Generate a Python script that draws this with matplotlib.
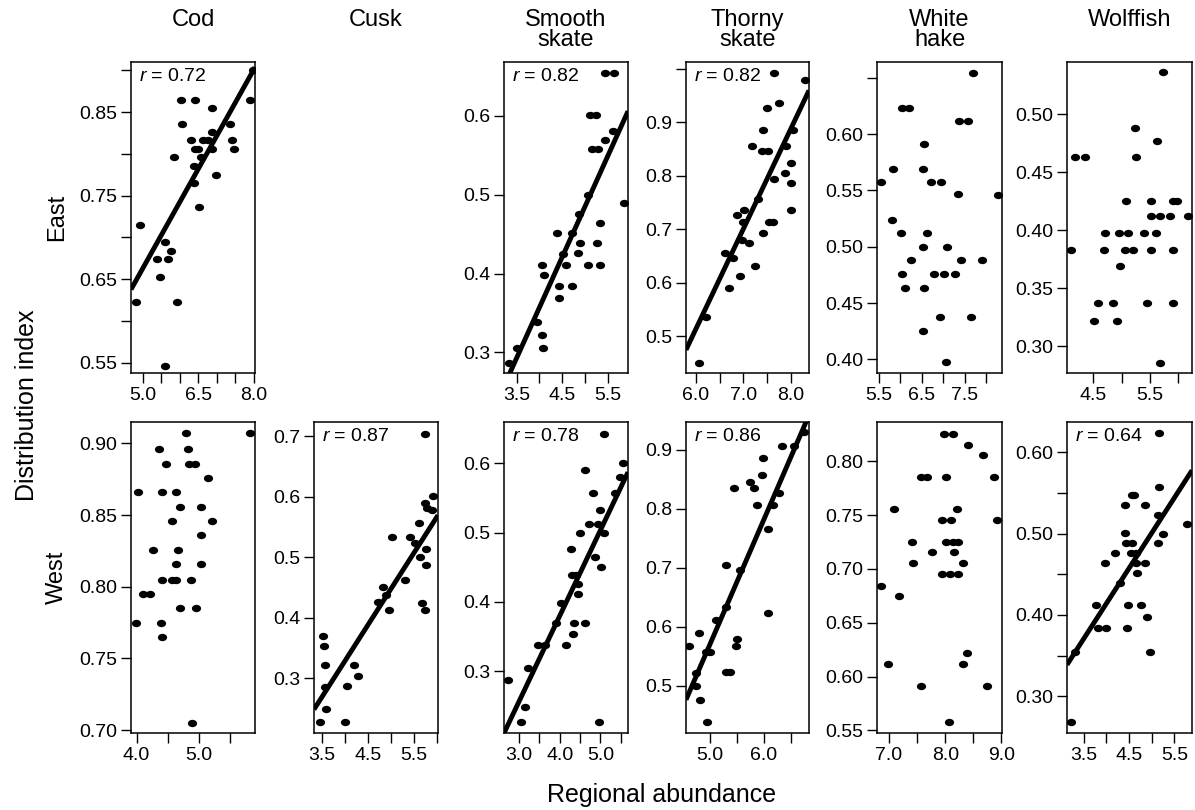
import numpy as np
import matplotlib
matplotlib.use('Agg')
import matplotlib.pyplot as plt
from matplotlib.path import Path

plt.rcParams['font.family'] = ['Liberation Sans', 'DejaVu Sans']
plt.rcParams['mathtext.fontset'] = 'custom'
plt.rcParams['mathtext.it'] = 'Liberation Sans:italic'
plt.rcParams['mathtext.rm'] = 'Liberation Sans'

species = ['Cod', 'Cusk', 'Smooth\nskate', 'Thorny\nskate', 'White\nhake', 'Wolffish']
regions = ['East', 'West']

# ---- East ----
cod_east_x = [4.91, 4.82, 5.39, 5.46, 5.60, 5.75, 5.69, 5.61, 5.91, 5.84, 6.03, 6.06, 6.30, 6.42, 6.38,
              6.39, 6.42, 6.53, 6.56, 6.62, 6.76, 6.88, 6.88, 6.88, 6.97, 7.36, 7.40, 7.45, 7.89, 6.50, 7.98]
cod_east_y = [0.715, 0.622, 0.674, 0.653, 0.695, 0.684, 0.674, 0.546, 0.622, 0.796, 0.865, 0.836, 0.816, 0.865, 0.785,
              0.765, 0.806, 0.736, 0.796, 0.816, 0.816, 0.806, 0.826, 0.855, 0.775, 0.836, 0.816, 0.806, 0.865, 0.806, 0.900]
cod_east_fit = (0.0794, 0.266)   # slope, intercept
cod_east_r = 0.72

smooth_east_x = [3.32, 3.51, 3.94, 4.06, 4.07, 4.05, 4.11, 4.39, 4.44, 4.44, 4.51, 4.58, 4.71, 4.71, 4.88, 4.90,
                 4.86, 5.07, 5.07, 5.11, 5.24, 5.15, 5.29, 5.27, 5.33, 5.33, 5.44, 5.65, 5.44, 5.61, 5.86]
smooth_east_y = [0.287, 0.306, 0.338, 0.322, 0.306, 0.411, 0.398, 0.451, 0.384, 0.369, 0.425, 0.411, 0.451, 0.384,
                 0.476, 0.439, 0.426, 0.411, 0.500, 0.601, 0.601, 0.558, 0.558, 0.439, 0.464, 0.411, 0.654, 0.654,
                 0.569, 0.580, 0.489]
smooth_east_fit = (0.1275, -0.153)
smooth_east_r = 0.82

thorny_east_x = [6.07, 6.22, 6.62, 6.69, 6.79, 6.86, 6.93, 6.97, 7.02, 7.00, 7.13, 7.24, 7.18, 7.32, 7.41, 7.42,
                 7.39, 7.52, 7.51, 7.55, 7.62, 7.65, 7.65, 7.75, 7.89, 7.90, 8.01, 8.01, 8.02, 8.06, 8.30]
thorny_east_y = [0.451, 0.537, 0.655, 0.590, 0.646, 0.727, 0.612, 0.680, 0.736, 0.714, 0.675, 0.632, 0.856, 0.756,
                 0.694, 0.886, 0.846, 0.846, 0.927, 0.714, 0.714, 0.795, 0.992, 0.937, 0.805, 0.856, 0.825, 0.786,
                 0.736, 0.886, 0.980]
thorny_east_fit = (0.1865, -0.605)
thorny_east_r = 0.82

hake_east_x = [5.55, 5.83, 5.81, 6.01, 6.03, 6.12, 6.03, 6.21, 6.26, 6.52, 6.52, 6.52, 6.56, 6.56, 6.61, 6.71,
               6.79, 6.91, 6.94, 7.02, 7.08, 7.06, 7.27, 7.35, 7.37, 7.41, 7.58, 7.65, 7.68, 7.90, 8.27]
hake_east_y = [0.5575, 0.569, 0.524, 0.512, 0.476, 0.4635, 0.623, 0.623, 0.488, 0.425, 0.500, 0.569, 0.591,
               0.4635, 0.512, 0.5575, 0.476, 0.438, 0.5575, 0.476, 0.500, 0.3975, 0.476, 0.547, 0.612, 0.488,
               0.612, 0.438, 0.654, 0.488, 0.546]

wolf_east_x = [4.11, 4.18, 4.36, 4.51, 4.58, 4.70, 4.69, 4.84, 4.91, 4.97, 4.96, 5.11, 5.08, 5.06, 5.20, 5.24,
               5.25, 5.40, 5.45, 5.52, 5.52, 5.52, 5.60, 5.63, 5.67, 5.68, 5.73, 5.86, 5.90, 5.97, 5.91, 5.91, 6.17]
wolf_east_y = [0.383, 0.4635, 0.4635, 0.3215, 0.337, 0.3975, 0.383, 0.337, 0.3215, 0.369, 0.3975, 0.3975, 0.425,
               0.383, 0.383, 0.4885, 0.4635, 0.3975, 0.337, 0.425, 0.383, 0.412, 0.3975, 0.4765, 0.286, 0.412,
               0.536, 0.412, 0.425, 0.425, 0.383, 0.337, 0.412]

# ---- West ----
cod_west_x = [3.99, 4.03, 4.10, 4.21, 4.26, 4.36, 4.40, 4.40, 4.39, 4.40, 4.47, 4.56, 4.56, 4.63, 4.63, 4.63,
              4.66, 4.69, 4.70, 4.79, 4.82, 4.84, 4.94, 4.87, 4.89, 4.95, 5.04, 5.04, 5.04, 5.15, 5.21, 5.82]
cod_west_y = [0.775, 0.866, 0.795, 0.795, 0.826, 0.8965, 0.866, 0.805, 0.775, 0.765, 0.886, 0.846, 0.805, 0.805,
              0.866, 0.816, 0.826, 0.856, 0.785, 0.907, 0.8965, 0.886, 0.886, 0.805, 0.705, 0.785, 0.856, 0.836,
              0.816, 0.876, 0.846, 0.907]

cusk_west_x = [3.46, 3.54, 3.56, 3.57, 3.57, 3.59, 4.06, 4.01, 4.20, 4.28, 4.73, 4.84, 4.91, 4.97, 5.04, 5.32,
               5.43, 5.52, 5.62, 5.63, 5.68, 5.74, 5.74, 5.75, 5.76, 5.77, 5.80, 5.92, 5.90]
cusk_west_y = [0.227, 0.369, 0.353, 0.322, 0.286, 0.249, 0.287, 0.227, 0.322, 0.304, 0.4255, 0.451, 0.4375, 0.412,
               0.534, 0.463, 0.534, 0.523, 0.557, 0.501, 0.425, 0.412, 0.704, 0.590, 0.513, 0.487, 0.581, 0.601,
               0.579]
cusk_west_fit = (0.1193, -0.1497)
cusk_west_r = 0.87

smooth_west_x = [2.74, 3.06, 3.16, 3.22, 3.47, 3.65, 3.90, 4.04, 4.16, 4.27, 4.33, 4.35, 4.31, 4.44, 4.45, 4.39,
                 4.51, 4.62, 4.62, 4.71, 4.81, 4.88, 4.96, 4.94, 5.00, 5.02, 5.08, 5.10, 5.55, 5.49, 5.35]
smooth_west_y = [0.288, 0.227, 0.249, 0.305, 0.338, 0.338, 0.370, 0.399, 0.338, 0.4756, 0.3536, 0.3694, 0.4388,
                 0.4115, 0.4254, 0.4388, 0.4995, 0.3694, 0.5895, 0.512, 0.557, 0.465, 0.227, 0.512, 0.533, 0.4507,
                 0.642, 0.4995, 0.600, 0.580, 0.557]
smooth_west_fit = (0.1232, -0.113)
smooth_west_r = 0.78

thorny_west_x = [4.625, 4.75, 4.75, 4.81, 4.825, 4.95, 4.925, 5.0, 5.11, 5.30, 5.31, 5.31, 5.375, 5.46, 5.49,
                 5.50, 5.56, 5.75, 5.825, 5.875, 5.99, 5.97, 6.09, 6.08, 6.175, 6.28, 6.34, 6.56, 6.75]
thorny_west_y = [0.568, 0.5225, 0.50, 0.590, 0.476, 0.438, 0.558, 0.558, 0.6115, 0.634, 0.7045, 0.523, 0.523,
                 0.836, 0.568, 0.579, 0.696, 0.845, 0.836, 0.806, 0.886, 0.857, 0.765, 0.623, 0.806, 0.826, 0.907,
                 0.907, 0.93]
thorny_west_fit = (0.2118, -0.490)
thorny_west_r = 0.86

hake_west_x = [6.86, 6.98, 7.09, 7.18, 7.41, 7.43, 7.56, 7.56, 7.67, 7.77, 7.95, 7.95, 7.98, 8.01, 8.02, 8.08,
               8.07, 8.10, 8.13, 8.15, 8.14, 8.23, 8.23, 8.21, 8.32, 8.31, 8.39, 8.40, 8.67, 8.75, 8.86, 8.92]
hake_west_y = [0.6844, 0.6115, 0.7555, 0.6748, 0.7252, 0.7051, 0.5908, 0.7855, 0.7855, 0.7153, 0.6952, 0.7453,
               0.8256, 0.7252, 0.7855, 0.6952, 0.5574, 0.7453, 0.8256, 0.7153, 0.7252, 0.6952, 0.7252, 0.7555,
               0.7051, 0.6115, 0.6223, 0.8155, 0.8056, 0.5908, 0.7855, 0.7453]

wolf_west_x = [3.226, 3.315, 3.76, 3.82, 4.00, 3.97, 4.20, 4.30, 4.41, 4.41, 4.44, 4.45, 4.48, 4.56, 4.61, 4.57,
               4.54, 4.65, 4.65, 4.67, 4.76, 4.85, 4.86, 4.89, 4.97, 5.13, 5.15, 5.17, 5.17, 5.24, 5.78]
wolf_west_y = [0.2686, 0.3543, 0.4122, 0.3837, 0.3837, 0.4641, 0.4763, 0.4388, 0.5355, 0.5008, 0.4886, 0.3837,
               0.4122, 0.547, 0.547, 0.4886, 0.4763, 0.4763, 0.4641, 0.451, 0.4122, 0.5355, 0.4641, 0.398, 0.3543,
               0.4886, 0.5233, 0.5571, 0.6233, 0.50, 0.5122]
wolf_west_fit = (0.0865, 0.0681)
wolf_west_r = 0.64

# ---- layout (pixels on a 1195 x 810 canvas) ----
W, H = 1195, 810
col_x = [(131, 255), (314, 438), (504, 628), (686, 809), (877, 1002), (1067, 1192)]
row_y = [(62, 373), (422, 733)]

panels = [
    dict(row=0, col=0, x=cod_east_x, y=cod_east_y, fit=cod_east_fit, r=cod_east_r,
         xlim=(4.68, 8.03), ylim=(0.5375, 0.910),
         xt=[5.0, 5.5, 6.0, 6.5, 7.0, 7.5, 8.0], xl=[5.0, 6.5, 8.0],
         yt=[0.55, 0.60, 0.65, 0.70, 0.75, 0.80, 0.85, 0.90], yl=[0.55, 0.65, 0.75, 0.85], yf='%.2f'),
    dict(row=0, col=2, x=smooth_east_x, y=smooth_east_y, fit=smooth_east_fit, r=smooth_east_r,
         xlim=(3.22, 5.95), ylim=(0.274, 0.668),
         xt=[3.5, 4.0, 4.5, 5.0, 5.5], xl=[3.5, 4.5, 5.5],
         yt=[0.3, 0.4, 0.5, 0.6], yl=[0.3, 0.4, 0.5, 0.6], yf='%.1f'),
    dict(row=0, col=3, x=thorny_east_x, y=thorny_east_y, fit=thorny_east_fit, r=thorny_east_r,
         xlim=(5.79, 8.39), ylim=(0.4315, 1.013),
         xt=[6.0, 6.5, 7.0, 7.5, 8.0], xl=[6.0, 7.0, 8.0],
         yt=[0.5, 0.6, 0.7, 0.8, 0.9, 1.0], yl=[0.5, 0.6, 0.7, 0.8, 0.9], yf='%.1f'),
    dict(row=0, col=4, x=hake_east_x, y=hake_east_y, fit=None, r=None,
         xlim=(5.46, 8.36), ylim=(0.388, 0.664),
         xt=[5.5, 6.0, 6.5, 7.0, 7.5, 8.0], xl=[5.5, 6.5, 7.5],
         yt=[0.40, 0.45, 0.50, 0.55, 0.60, 0.65], yl=[0.40, 0.45, 0.50, 0.55, 0.60], yf='%.2f'),
    dict(row=0, col=5, x=wolf_east_x, y=wolf_east_y, fit=None, r=None,
         xlim=(4.036, 6.24), ylim=(0.277, 0.545),
         xt=[4.5, 5.0, 5.5, 6.0], xl=[4.5, 5.5],
         yt=[0.30, 0.35, 0.40, 0.45, 0.50], yl=[0.30, 0.35, 0.40, 0.45, 0.50], yf='%.2f'),
    dict(row=1, col=0, x=cod_west_x, y=cod_west_y, fit=None, r=None,
         xlim=(3.91, 5.90), ylim=(0.698, 0.915),
         xt=[4.0, 4.5, 5.0, 5.5], xl=[4.0, 5.0],
         yt=[0.70, 0.75, 0.80, 0.85, 0.90], yl=[0.70, 0.75, 0.80, 0.85, 0.90], yf='%.2f'),
    dict(row=1, col=1, x=cusk_west_x, y=cusk_west_y, fit=cusk_west_fit, r=cusk_west_r,
         xlim=(3.334, 6.03), ylim=(0.209, 0.724),
         xt=[3.5, 4.0, 4.5, 5.0, 5.5, 6.0], xl=[3.5, 4.5, 5.5],
         yt=[0.3, 0.4, 0.5, 0.6, 0.7], yl=[0.3, 0.4, 0.5, 0.6, 0.7], yf='%.1f'),
    dict(row=1, col=2, x=smooth_west_x, y=smooth_west_y, fit=smooth_west_fit, r=smooth_west_r,
         xlim=(2.633, 5.68), ylim=(0.2115, 0.659),
         xt=[3.0, 3.5, 4.0, 4.5, 5.0, 5.5], xl=[3.0, 4.0, 5.0],
         yt=[0.3, 0.4, 0.5, 0.6], yl=[0.3, 0.4, 0.5, 0.6], yf='%.1f'),
    dict(row=1, col=3, x=thorny_west_x, y=thorny_west_y, fit=thorny_west_fit, r=thorny_west_r,
         xlim=(4.5625, 6.84), ylim=(0.42, 0.947),
         xt=[5.0, 5.5, 6.0, 6.5], xl=[5.0, 6.0],
         yt=[0.5, 0.6, 0.7, 0.8, 0.9], yl=[0.5, 0.6, 0.7, 0.8, 0.9], yf='%.1f'),
    dict(row=1, col=4, x=hake_west_x, y=hake_west_y, fit=None, r=None,
         xlim=(6.786, 9.01), ylim=(0.5475, 0.8365),
         xt=[7.0, 7.5, 8.0, 8.5, 9.0], xl=[7.0, 8.0, 9.0],
         yt=[0.55, 0.60, 0.65, 0.70, 0.75, 0.80], yl=[0.55, 0.60, 0.65, 0.70, 0.75, 0.80], yf='%.2f'),
    dict(row=1, col=5, x=wolf_west_x, y=wolf_west_y, fit=wolf_west_fit, r=wolf_west_r,
         xlim=(3.13, 5.89), ylim=(0.255, 0.637),
         xt=[3.5, 4.0, 4.5, 5.0, 5.5], xl=[3.5, 4.5, 5.5],
         yt=[0.30, 0.35, 0.40, 0.45, 0.50, 0.55, 0.60], yl=[0.30, 0.40, 0.50, 0.60], yf='%.2f'),
]

# slightly flattened dot, like the printed figure
circ = Path.unit_circle()
dot = Path(circ.vertices * [1.0, 0.8], circ.codes)

fig = plt.figure(figsize=(W / 100, H / 100), dpi=100)


def tick_labels(ticks, labelled, fmt):
    return [fmt % t if np.any(np.isclose(t, labelled)) else '' for t in ticks]


for p in panels:
    x0, x1 = col_x[p['col']]
    y0, y1 = row_y[p['row']]
    ax = fig.add_axes([x0 / W, 1 - y1 / H, (x1 - x0) / W, (y1 - y0) / H])

    ax.scatter(p['x'], p['y'], s=44, marker=dot, color='black', linewidths=0, zorder=3)

    if p['fit'] is not None:
        slope, icpt = p['fit']
        xs = np.array(p['xlim'])
        ax.plot(xs, slope * xs + icpt, color='black', lw=3.5, solid_capstyle='butt', zorder=2)
        ax.annotate(f'$r$ = {p["r"]:.2f}', xy=(0, 1), xycoords='axes fraction',
                    xytext=(6, -4), textcoords='offset points', ha='left', va='top', fontsize=14)

    ax.set_xlim(p['xlim'])
    ax.set_ylim(p['ylim'])
    ax.set_xticks(p['xt'], tick_labels(p['xt'], p['xl'], '%.1f'))
    ax.set_yticks(p['yt'], tick_labels(p['yt'], p['yl'], p['yf']))
    ax.tick_params(direction='out', length=7, width=1.0, labelsize=14, pad=3, color='black')
    for s in ax.spines.values():
        s.set_linewidth(1.1)

# column titles
for i, name in enumerate(species):
    cx = (col_x[i][0] + col_x[i][1]) / 2 / W
    fig.text(cx, 1 - 9 / H, name, ha='center', va='top', fontsize=17, linespacing=0.9)

# row labels
for j, reg in enumerate(regions):
    cy = 1 - (row_y[j][0] + row_y[j][1]) / 2 / H
    fig.text(57 / W, cy, reg, rotation=90, ha='center', va='center', fontsize=17)

fig.text(27 / W, 0.5, 'Distribution index', rotation=90, ha='center', va='center', fontsize=18)
fig.text(662 / W, 1 - 795 / H, 'Regional abundance', ha='center', va='center', fontsize=18)

fig.savefig('out.png', dpi=100)
